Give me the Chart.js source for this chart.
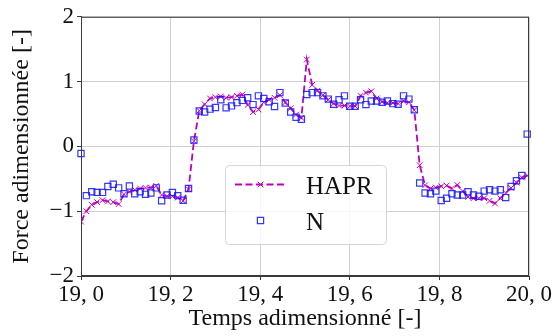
<!DOCTYPE html>
<html>
<head>
<meta charset="utf-8">
<script src="https://cdn.jsdelivr.net/npm/chart.js@4/dist/chart.umd.min.js"></script>
<style>
  html, body { margin: 0; padding: 0; background: #fff; }
  #wrap { width: 558px; height: 336px; position: relative; }
</style>
</head>
<body>
<div id="wrap"><canvas id="c" width="558" height="336"></canvas></div>
<script>
// ---- data ----
const timeValues = [19.000, 19.012, 19.024, 19.036, 19.048, 19.060, 19.072, 19.084, 19.096, 19.108,
  19.120, 19.132, 19.144, 19.156, 19.168, 19.180, 19.192, 19.204, 19.216, 19.228,
  19.240, 19.252, 19.264, 19.276, 19.288, 19.300, 19.312, 19.324, 19.336, 19.348,
  19.360, 19.372, 19.384, 19.396, 19.408, 19.420, 19.432, 19.444, 19.456, 19.468,
  19.480, 19.492, 19.504, 19.516, 19.528, 19.540, 19.552, 19.564, 19.576, 19.588,
  19.600, 19.612, 19.624, 19.636, 19.648, 19.660, 19.672, 19.684, 19.696, 19.708,
  19.720, 19.732, 19.744, 19.756, 19.768, 19.780, 19.792, 19.804, 19.816, 19.828,
  19.840, 19.852, 19.864, 19.876, 19.888, 19.900, 19.912, 19.924, 19.936, 19.948,
  19.960, 19.972, 19.984, 19.996];

const haprValues = [-1.16, -1.00, -0.90, -0.86, -0.83, -0.85, -0.86, -0.89, -0.74, -0.70,
  -0.67, -0.65, -0.64, -0.635, -0.61, -0.75, -0.77, -0.77, -0.79, -0.84,
  -0.66, 0.08, 0.55, 0.65, 0.74, 0.76, 0.77, 0.75, 0.76, 0.78,
  0.80, 0.64, 0.53, 0.57, 0.68, 0.72, 0.75, 0.79, 0.68, 0.59,
  0.49, 0.44, 1.34, 0.95, 0.86, 0.79, 0.72, 0.66, 0.63, 0.63,
  0.62, 0.62, 0.78, 0.83, 0.85, 0.74, 0.69, 0.67, 0.67, 0.66,
  0.70, 0.68, 0.56, -0.29, -0.60, -0.65, -0.635, -0.615, -0.605, -0.65,
  -0.595, -0.69, -0.78, -0.80, -0.80, -0.80, -0.84, -0.88, -0.80, -0.72,
  -0.64, -0.56, -0.48, -0.45];

const nValues = [-0.11, -0.76, -0.70, -0.71, -0.71, -0.62, -0.585, -0.64, -0.73, -0.61,
  -0.73, -0.70, -0.74, -0.72, -0.64, -0.84, -0.75, -0.71, -0.76, -0.83,
  -0.65, 0.10, 0.545, 0.53, 0.575, 0.60, 0.72, 0.595, 0.625, 0.675,
  0.71, 0.75, 0.645, 0.78, 0.74, 0.69, 0.615, 0.83, 0.67, 0.53,
  0.45, 0.42, 0.80, 0.83, 0.83, 0.78, 0.73, 0.65, 0.72, 0.78,
  0.62, 0.62, 0.72, 0.645, 0.70, 0.70, 0.68, 0.70, 0.66, 0.65,
  0.78, 0.73, 0.565, -0.565, -0.72, -0.73, -0.69, -0.835, -0.80, -0.73,
  -0.75, -0.75, -0.70, -0.75, -0.77, -0.69, -0.67, -0.69, -0.67, -0.79,
  -0.62, -0.53, -0.45, 0.19];

const seriesNames = ['HAPR', 'N'];
const xTickValues = [19.0, 19.2, 19.4, 19.6, 19.8, 20.0];
const xTickLabels = ['19, 0', '19, 2', '19, 4', '19, 6', '19, 8', '20, 0'];
const yTickValues = [-2, -1, 0, 1, 2];
const yTickLabels = ['\u22122', '\u22121', '0', '1', '2'];
const xTitle = 'Temps adimensionné [-]';
const yTitle = 'Force adimensionnée [-]';

// ---- styles ----
const FONT = '"Liberation Serif", "DejaVu Serif", serif';
const colHAPR = '#bf00bf';
const colN = 'rgba(20,20,255,0.85)';
const gridCol = '#d0d0d0';
const axisCol = '#3a3a3a';

const toPoints = (ys) => ys.map((y, i) => ({ x: timeValues[i], y: y }));

const frameLegendPlugin = {
  id: 'frameLegend',
  afterDraw(chart) {
    const ctx = chart.ctx;
    const a = chart.chartArea;
    ctx.save();
    // frame
    ctx.strokeStyle = axisCol;
    ctx.lineWidth = 1;
    ctx.strokeRect(a.left + 0.5, a.top + 0.5, a.right - a.left - 1, a.bottom - a.top - 1);
    // legend box
    const x0 = 225, y0 = 165, w = 161, h = 79;
    ctx.beginPath();
    ctx.roundRect(x0 + 0.5, y0 + 0.5, w, h, 4);
    ctx.fillStyle = 'rgba(255,255,255,0.8)';
    ctx.fill();
    ctx.strokeStyle = '#d6d6d6';
    ctx.stroke();
    // HAPR sample
    ctx.strokeStyle = colHAPR;
    ctx.lineWidth = 1.8;
    ctx.setLineDash([7, 3.5]);
    ctx.beginPath();
    ctx.moveTo(235, 184.5);
    ctx.lineTo(286, 184.5);
    ctx.stroke();
    ctx.setLineDash([]);
    ctx.lineWidth = 1;
    Chart.helpers.drawPoint(ctx, { pointStyle: 'crossRot', radius: 4, borderWidth: 1 }, 260.5, 184.5);
    // N sample
    ctx.strokeStyle = colN;
    ctx.lineWidth = 1.2;
    Chart.helpers.drawPoint(ctx, { pointStyle: 'rect', radius: 4.4, borderWidth: 1.2 }, 260.5, 220.5);
    // text
    ctx.fillStyle = '#111';
    ctx.font = '25px ' + FONT;
    ctx.textBaseline = 'alphabetic';
    ctx.textAlign = 'left';
    ctx.fillText(seriesNames[0], 306, 194);
    ctx.fillText(seriesNames[1], 306, 230);
    ctx.restore();
  }
};

new Chart(document.getElementById('c'), {
  type: 'line',
  data: {
    datasets: [
      {
        label: seriesNames[0],
        data: toPoints(haprValues),
        borderColor: colHAPR,
        backgroundColor: colHAPR,
        borderWidth: 1.8,
        borderDash: [7, 3.5],
        tension: 0,
        pointStyle: 'crossRot',
        pointRadius: 4,
        pointBorderWidth: 1,
        pointBorderColor: colHAPR,
        order: 1
      },
      {
        label: seriesNames[1],
        data: toPoints(nValues),
        showLine: false,
        borderColor: colN,
        backgroundColor: 'rgba(0,0,0,0)',
        pointStyle: 'rect',
        pointRadius: 4.4,
        pointBorderWidth: 1.2,
        pointBorderColor: colN,
        pointBackgroundColor: 'rgba(0,0,0,0)',
        clip: false,
        order: 0
      }
    ]
  },
  options: {
    responsive: false,
    animation: false,
    events: [],
    layout: { padding: { top: 14, right: 29, left: 0, bottom: 0 } },
    plugins: { legend: { display: false }, tooltip: { enabled: false } },
    scales: {
      x: {
        type: 'linear',
        min: 19, max: 20,
        afterBuildTicks: (s) => { s.ticks = xTickValues.map(v => ({ value: v })); },
        afterFit: (s) => { s.height = 60; },
        ticks: {
          callback: (v, i) => xTickLabels[i],
          color: '#111',
          font: { family: FONT, size: 23 },
          padding: 1,
          maxRotation: 0,
          autoSkip: false
        },
        grid: { color: gridCol, lineWidth: 1, tickColor: axisCol, tickLength: 4 },
        border: { color: axisCol, width: 1 },
        title: {
          display: true, text: xTitle, color: '#111',
          font: { family: FONT, size: 24 },
          padding: { top: 0, bottom: 3 }
        }
      },
      y: {
        type: 'linear',
        min: -2, max: 2,
        afterBuildTicks: (s) => { s.ticks = yTickValues.map(v => ({ value: v })); },
        afterFit: (s) => { s.width = 81; },
        ticks: {
          callback: (v, i) => yTickLabels[i],
          color: '#111',
          font: { family: FONT, size: 23 },
          padding: 3
        },
        grid: { color: gridCol, lineWidth: 1, tickColor: axisCol, tickLength: 4 },
        border: { color: axisCol, width: 1 },
        title: {
          display: true, text: yTitle, color: '#111',
          font: { family: FONT, size: 24 },
          padding: { top: 7, bottom: 0 }
        }
      }
    }
  },
  plugins: [frameLegendPlugin]
});
</script>
</body>
</html>
